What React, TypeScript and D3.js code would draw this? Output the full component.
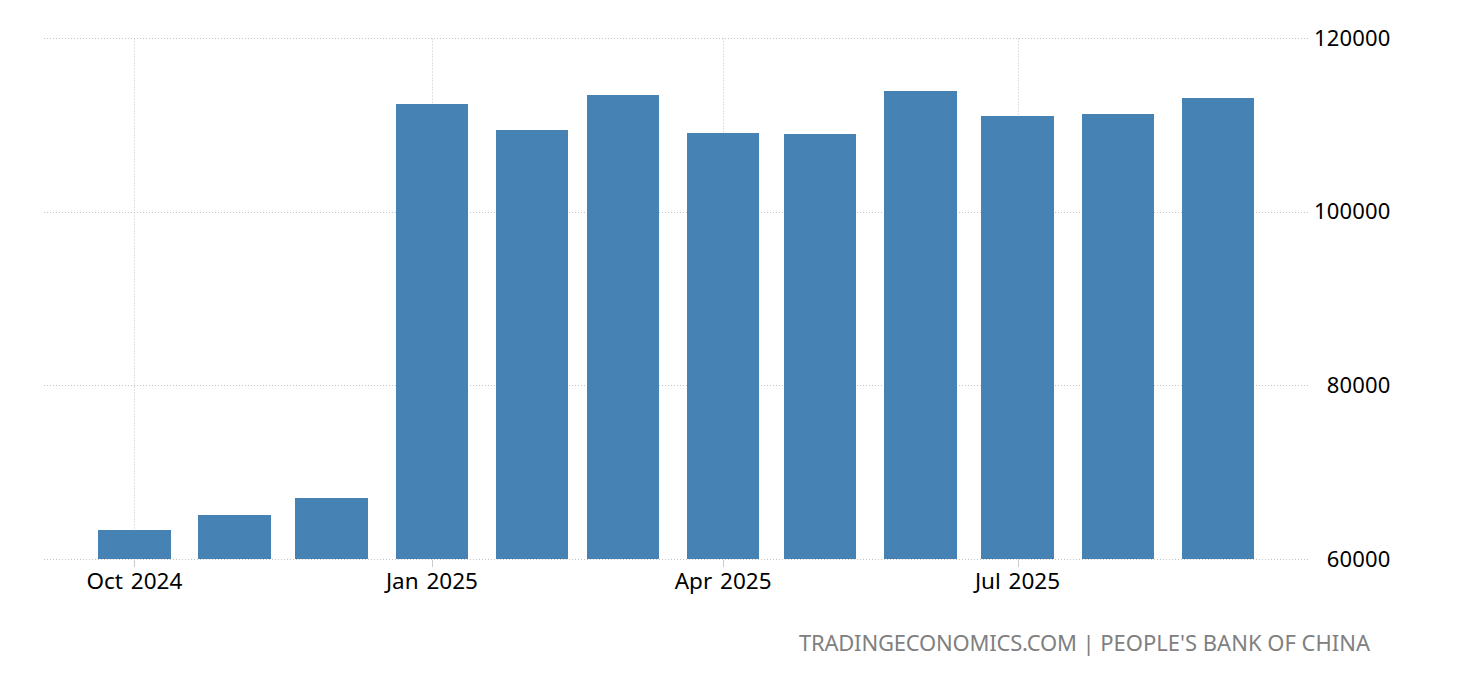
import { useEffect, useRef } from "react";
import * as d3 from "d3";

const MONTHS = [
  "2024-10-01", "2024-11-01", "2024-12-01", "2025-01-01", "2025-02-01", "2025-03-01",
  "2025-04-01", "2025-05-01", "2025-06-01", "2025-07-01", "2025-08-01", "2025-09-01",
];
const VALUES = [63400, 65130, 67080, 112450, 109460, 113490, 109110, 109000, 113950, 111070, 111300, 113150];
const X_TICKS = ["2024-10-01", "2025-01-01", "2025-04-01", "2025-07-01"];
const Y_TICKS = [60000, 80000, 100000, 120000];

const WIDTH = 1460;
const HEIGHT = 680;
const FONT = "'Noto Sans', sans-serif";

export default function App() {
  const ref = useRef<SVGSVGElement | null>(null);

  useEffect(() => {
    if (!ref.current) {
      return;
    }

    const svg = d3.select(ref.current);
    svg.selectAll("*").remove();

    const parse = d3.utcParse("%Y-%m-%d");
    const format = d3.utcFormat("%b %Y");

    const x = d3
      .scaleUtc()
      .domain([parse(MONTHS[0])!, parse(MONTHS[MONTHS.length - 1])!])
      .range([134.35, 1218.05]);

    const y = d3.scaleLinear().domain([60000, 120000]).range([559.5, 38.5]);

    const barWidth = 72.4;
    const tickX = (d: string) => Math.round(x(parse(d)!) + 0.1) + 0.5;

    // gridlines
    svg
      .append("g")
      .selectAll("line")
      .data(Y_TICKS)
      .enter()
      .append("line")
      .attr("x1", 44)
      .attr("x2", 1308)
      .attr("y1", (d) => Math.floor(y(d)) + 0.5)
      .attr("y2", (d) => Math.floor(y(d)) + 0.5)
      .attr("stroke", "#c4c4c4")
      .attr("stroke-dasharray", "1,2");

    svg
      .append("g")
      .selectAll("line")
      .data(X_TICKS)
      .enter()
      .append("line")
      .attr("x1", tickX)
      .attr("x2", tickX)
      .attr("y1", y(120000))
      .attr("y2", y(60000))
      .attr("stroke", "#c4c4c4")
      .attr("stroke-dasharray", "1,2");

    // tick marks under the baseline
    svg
      .append("g")
      .selectAll("line")
      .data(X_TICKS)
      .enter()
      .append("line")
      .attr("x1", tickX)
      .attr("x2", tickX)
      .attr("y1", y(60000))
      .attr("y2", y(60000) + 7.5)
      .attr("stroke", "#cccccc");

    // edges snapped to whole pixels, the bars are crisp in the reference
    const left = (d: { month: string }) => Math.round(x(parse(d.month)!) - barWidth / 2);
    const right = (d: { month: string }) => Math.round(x(parse(d.month)!) + barWidth / 2);

    svg
      .append("g")
      .selectAll("rect")
      .data(MONTHS.map((month, i) => ({ month, value: VALUES[i] })))
      .enter()
      .append("rect")
      .attr("x", left)
      .attr("y", (d) => Math.round(y(d.value)))
      .attr("width", (d) => right(d) - left(d))
      .attr("height", (d) => 559 - Math.round(y(d.value)))
      .attr("fill", "#4682b4");

    svg
      .append("g")
      .selectAll("text")
      .data(X_TICKS)
      .enter()
      .append("text")
      .text((d) => format(parse(d)!))
      .attr("x", (d) => x(parse(d)!))
      .attr("y", 589)
      .attr("text-anchor", "middle")
      .attr("font-family", FONT)
      .attr("font-size", 22.5)
      .attr("word-spacing", 2)
      .attr("fill", "#000000");

    svg
      .append("g")
      .selectAll("text")
      .data(Y_TICKS)
      .enter()
      .append("text")
      .text((d) => String(d))
      .attr("x", 1390.5)
      .attr("y", (d) => y(d) + 7)
      .attr("text-anchor", "end")
      .attr("font-family", FONT)
      .attr("font-size", 22)
      .attr("letter-spacing", 0.15)
      .attr("fill", "#000000");

    const source = svg
      .append("text")
      .attr("x", 1370)
      .attr("y", 651)
      .attr("text-anchor", "end")
      .attr("font-family", FONT)
      .attr("font-size", 22)
      .attr("fill", "#808080");

    source.append("tspan").attr("letter-spacing", -0.2).text("TRADINGECONOMICS.COM");
    source.append("tspan").text(" | PEOPLE'S BANK OF CHINA");
  }, []);

  return (
    <svg
      ref={ref}
      width={WIDTH}
      height={HEIGHT}
      viewBox={`0 0 ${WIDTH} ${HEIGHT}`}
      style={{ position: "absolute", left: 0, top: 0, background: "#ffffff" }}
    />
  );
}
